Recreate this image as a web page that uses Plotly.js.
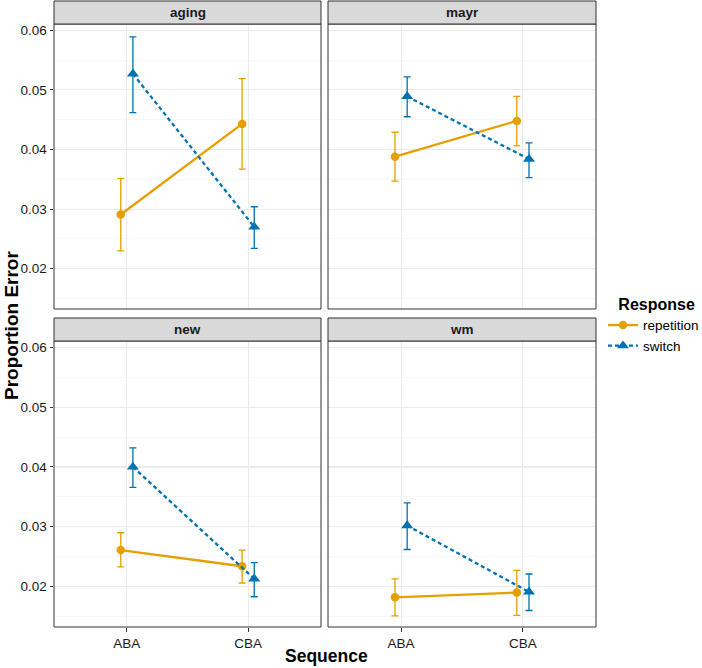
<!DOCTYPE html>
<html>
<head>
<meta charset="utf-8">
<script src="https://cdn.plot.ly/plotly-3.0.1.min.js"></script>
<style>html,body{margin:0;padding:0;background:#fff;}#chart{width:702px;height:668px;}</style>
</head>
<body>
<div id="chart"></div>
<script>
// ---- data ----
const panels = ["aging", "mayr", "new", "wm"];
const sequences = ["ABA", "CBA"];
const seqPos = [1, 2];
const responses = ["repetition", "switch"];
const yTicks = [0.02, 0.03, 0.04, 0.05, 0.06];
const yTickText = ["0.02", "0.03", "0.04", "0.05", "0.06"];

// means / lower / upper per panel (ABA, CBA)
const agingRep = [0.0291, 0.0443];
const agingRepLo = [0.0230, 0.0367];
const agingRepHi = [0.0351, 0.0519];
const agingSw = [0.0527, 0.0270];
const agingSwLo = [0.0462, 0.0234];
const agingSwHi = [0.0589, 0.0304];

const mayrRep = [0.0388, 0.0448];
const mayrRepLo = [0.0347, 0.0406];
const mayrRepHi = [0.0429, 0.0489];
const mayrSw = [0.0489, 0.0384];
const mayrSwLo = [0.0455, 0.0353];
const mayrSwHi = [0.0522, 0.0411];

const newRep = [0.0261, 0.0234];
const newRepLo = [0.0233, 0.0206];
const newRepHi = [0.0290, 0.0261];
const newSw = [0.0400, 0.0213];
const newSwLo = [0.0366, 0.0183];
const newSwHi = [0.0432, 0.0240];

const wmRep = [0.0182, 0.0190];
const wmRepLo = [0.0151, 0.0152];
const wmRepHi = [0.0213, 0.0227];
const wmSw = [0.0302, 0.0191];
const wmSwLo = [0.0262, 0.0160];
const wmSwHi = [0.0340, 0.0221];

const panelData = {
  aging: {rep: [agingRep, agingRepLo, agingRepHi], sw: [agingSw, agingSwLo, agingSwHi]},
  mayr:  {rep: [mayrRep, mayrRepLo, mayrRepHi],    sw: [mayrSw, mayrSwLo, mayrSwHi]},
  new:   {rep: [newRep, newRepLo, newRepHi],       sw: [newSw, newSwLo, newSwHi]},
  wm:    {rep: [wmRep, wmRepLo, wmRepHi],          sw: [wmSw, wmSwLo, wmSwHi]}
};

// ---- styling / layout ----
const W = 702, H = 668;
const FONT = "Liberation Sans, Arial, Helvetica, sans-serif";
const colRep = "#E69F00", colSw = "#0072B2";
const dodge = 0.05;
const colsPx = [[54, 321], [328, 596]];
const rowsPx = [[24, 309], [341, 627]];
const stripH = 23;
const yRange = [0.01324, 0.06106];
const xRange = [0.4, 2.6];

const px2x = p => p / W;
const px2y = p => 1 - p / H;

const traces = [];
const layout = {
  width: W, height: H,
  margin: {l: 0, r: 0, t: 0, b: 0, pad: 0, autoexpand: false},
  paper_bgcolor: "#ffffff",
  plot_bgcolor: "#ffffff",
  font: {family: FONT, color: "#000000", size: 13},
  showlegend: true,
  legend: {
    x: px2x(603), y: px2y(289), xanchor: "left", yanchor: "top",
    title: {text: "&nbsp;&nbsp;&nbsp;<b>Response</b>", font: {size: 16, family: FONT, color: "#000"}},
    font: {size: 13.5, family: FONT, color: "#000"},
    bgcolor: "rgba(0,0,0,0)", tracegroupgap: 0, itemwidth: 30
  },
  shapes: [],
  annotations: []
};

panels.forEach((name, i) => {
  const r = Math.floor(i / 2), c = i % 2;
  const ax = i === 0 ? "" : String(i + 1);
  const xa = "xaxis" + ax, ya = "yaxis" + ax;
  const xr = "x" + ax, yr = "y" + ax;
  const isLeft = c === 0, isBottom = r === 1;
  layout[xa] = {
    domain: [px2x(colsPx[c][0]), px2x(colsPx[c][1])],
    anchor: yr, range: xRange, fixedrange: true, automargin: false,
    tickmode: "array", tickvals: seqPos, ticktext: sequences,
    showticklabels: isBottom, ticks: isBottom ? "outside" : "", ticklen: 3.5, tickwidth: 1, tickcolor: "#333333",
    tickfont: {size: 13.5, family: FONT, color: "#1a1a1a"},
    showgrid: true, gridcolor: "#EBEBEB", gridwidth: 1.1,
    zeroline: false, showline: false
  };
  layout[ya] = {
    domain: [px2y(rowsPx[r][1]), px2y(rowsPx[r][0])],
    anchor: xr, range: yRange, fixedrange: true, automargin: false,
    tickmode: "array", tickvals: yTicks, ticktext: yTickText,
    showticklabels: isLeft, ticks: isLeft ? "outside" : "", ticklen: 3.5, tickwidth: 1, tickcolor: "#333333",
    tickfont: {size: 13.5, family: FONT, color: "#1a1a1a"},
    showgrid: true, gridcolor: "#EBEBEB", gridwidth: 1.1,
    minor: {tickmode: "array", tickvals: [0.015, 0.025, 0.035, 0.045, 0.055], showgrid: true, gridcolor: "#F2F2F2", gridwidth: 0.6, ticks: ""},
    zeroline: false, showline: false
  };
  // panel border
  layout.shapes.push({type: "rect", xref: "paper", yref: "paper",
    x0: px2x(colsPx[c][0]), x1: px2x(colsPx[c][1]), y0: px2y(rowsPx[r][1]), y1: px2y(rowsPx[r][0]),
    line: {color: "#333333", width: 1}, fillcolor: "rgba(0,0,0,0)", layer: "above"});
  // strip
  layout.shapes.push({type: "rect", xref: "paper", yref: "paper",
    x0: px2x(colsPx[c][0]), x1: px2x(colsPx[c][1]), y0: px2y(rowsPx[r][0]), y1: px2y(rowsPx[r][0] - stripH),
    line: {color: "#333333", width: 1}, fillcolor: "#D9D9D9", layer: "above"});
  layout.annotations.push({xref: "paper", yref: "paper", showarrow: false,
    x: px2x((colsPx[c][0] + colsPx[c][1]) / 2), y: px2y(rowsPx[r][0] - stripH / 2),
    xanchor: "center", yanchor: "middle",
    text: "<b>" + name + "</b>", font: {size: 13.5, family: FONT, color: "#1a1a1a"}});

  const d = panelData[name];
  const groups = [
    {key: "rep", label: responses[0], color: colRep, sym: "circle", size: 8.5, dash: "solid", off: -dodge},
    {key: "sw", label: responses[1], color: colSw, sym: "triangle-up", size: 10.5, dash: "4px,3px", off: dodge}
  ];
  groups.forEach(g => {
    const [m, lo, hi] = d[g.key];
    traces.push({
      type: "scatter", mode: "lines+markers", xaxis: xr, yaxis: yr,
      x: seqPos.map(p => p + g.off), y: m,
      name: g.label, legendgroup: g.label, showlegend: i === 0,
      line: {color: g.color, width: 2.3, dash: g.dash},
      marker: {color: g.color, symbol: g.sym, size: g.size},
      error_y: {type: "data", symmetric: false,
        array: hi.map((v, k) => v - m[k]), arrayminus: m.map((v, k) => v - lo[k]),
        color: g.color, thickness: 1.3, width: 3.5},
      hoverinfo: "skip"
    });
  });
});

// axis titles
layout.annotations.push({xref: "paper", yref: "paper", showarrow: false,
  x: px2x(326), y: px2y(656), xanchor: "center", yanchor: "middle",
  text: "<b>Sequence</b>", font: {size: 17.5, family: FONT, color: "#000"}});
layout.annotations.push({xref: "paper", yref: "paper", showarrow: false,
  x: px2x(11), y: px2y(326), xanchor: "center", yanchor: "middle", textangle: -90,
  text: "<b>Proportion Error</b>", font: {size: 19, family: FONT, color: "#000"}});

Plotly.newPlot("chart", traces, layout, {staticPlot: true, displayModeBar: false});
</script>
</body>
</html>
